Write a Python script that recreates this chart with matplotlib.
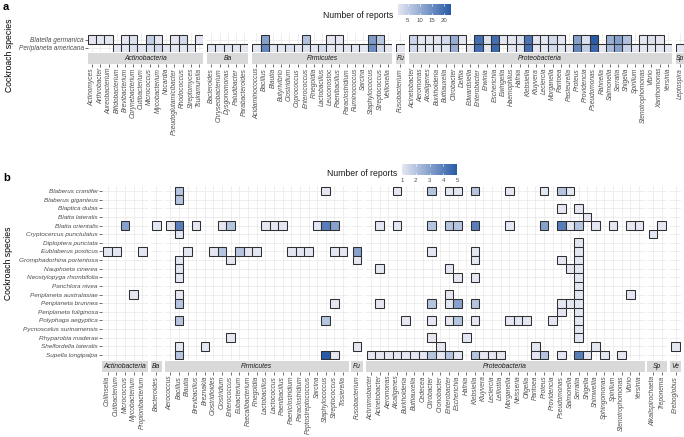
import matplotlib
matplotlib.use("Agg")
import matplotlib.pyplot as plt
from matplotlib.colors import LinearSegmentedColormap, Normalize
import numpy as np

plt.rcParams['font.family'] = ['Liberation Sans', 'DejaVu Sans']

# ---------------- Panel a data ----------------
a_species = ["Blatella germanica", "Periplaneta americana"]

a_actino = ["Actinomyces", "Arthrobacter", "Aureobacterium", "Bifidobacterium", "Brevibacterium",
            "Corynebacterium", "Cutibacterium", "Micrococcus", "Mycobacterium", "Nocardia",
            "Pseudoglutamicibacter", "Rhodococcus", "Streptomyces", "Tsukamurella"]
a_actino_bg = [1, 1, 1, 0, 1, 2, 0, 5, 1, 0, 1, 3, 0, 1]
a_actino_pa = [0, 0, 0, 1, 1, 2, 1, 2, 3, 1, 1, 1, 1, 0]

a_bactero = ["Bacteroides", "Chryseobacterium", "Dysgonomonas", "Paludibacter", "Parabacteroides"]
a_bactero_bg = [0, 0, 0, 0, 0]
a_bactero_pa = [1, 1, 1, 1, 1]

a_firmi = ["Acidaminococcus", "Bacillus", "Blautia", "Butyrivibrio", "Clostridium", "Coprococcus",
           "Enterococcus", "Finegoldia", "Lactobacillus", "Leuconostoc", "Paenibacillus",
           "Paraclostridium", "Ruminococcus", "Sarcina", "Staphylococcus", "Streptococcus", "Veillonella"]
a_firmi_bg = [0, 12, 0, 0, 0, 0, 7, 0, 0, 1, 1, 0, 0, 0, 13, 6, 0]
a_firmi_pa = [1, 16, 1, 1, 2, 1, 2, 1, 3, 1, 1, 1, 1, 1, 15, 3, 1]

a_fuso = ["Fusobacterium"]
a_fuso_bg = [0]
a_fuso_pa = [1]

a_proteo = ["Acinetobacter", "Aeromonas", "Alcaligenes", "Burkholderia", "Buttiauxella", "Citrobacter",
            "Delftia", "Edwardsiella", "Enterobacter", "Erwinia", "Escherichia", "Ewingella",
            "Haemophilus", "Hafnia", "Klebsiella", "Kluyvera", "Leclercia", "Morganella", "Pantoea",
            "Pasteurella", "Proteus", "Providencia", "Pseudomonas", "Rahnella", "Salmonella", "Serratia",
            "Shigella", "Spirillum", "Stenotrophomonas", "Vibrio", "Xanthomonas", "Yersinia"]
a_proteo_bg = [4, 1, 1, 1, 3, 10, 1, 0, 20, 2, 20, 1, 1, 2, 19, 1, 1, 3, 1, 0, 12, 2, 23, 0, 10, 12, 7, 0, 1, 2, 1, 0]
a_proteo_pa = [3, 1, 1, 1, 1, 10, 0, 1, 20, 1, 21, 0, 1, 1, 20, 1, 1, 3, 1, 1, 16, 5, 21, 1, 8, 12, 4, 1, 1, 1, 1, 1]

a_spiro = ["Leptospira"]
a_spiro_bg = [0]
a_spiro_pa = [1]

# ---------------- Panel b data ----------------
b_species = ["Blaberus craniifer", "Blaberus giganteus", "Blaptica dubia", "Blatta lateralis",
             "Blatta orientalis", "Cryptocercus punctulatus", "Diploptera punctata", "Eublaberus posticus",
             "Gromphadorhina portentosa", "Nauphoeta cinerea", "Neostylopyga rhombifolia", "Panchlora nivea",
             "Periplaneta australasiae", "Periplaneta brunnea", "Periplaneta fuliginosa", "Polyphaga aegyptica",
             "Pycnoscelus surinamensis", "Rhyparobia maderae", "Shelfordella lateralis", "Supella longipalpa"]

b_actino = ["Collinsella", "Cutibacterium", "Micrococcus", "Mycobacterium", "Propionibacterium"]
b_actino_tiles = [("Blatta orientalis", "Micrococcus", 3),
                  ("Eublaberus posticus", "Collinsella", 1), ("Eublaberus posticus", "Cutibacterium", 1),
                  ("Eublaberus posticus", "Propionibacterium", 1),
                  ("Periplaneta australasiae", "Mycobacterium", 1)]

b_bactero = ["Bacteroides"]
b_bactero_tiles = [("Blatta orientalis", "Bacteroides", 1)]

b_firmi = ["Aerococcus", "Bacillus", "Blautia", "Brevibacillus", "Breznakia", "Clostridioides", "Clostridium",
           "Enterococcus", "Eubacterium", "Faecalibacterium", "Finegoldia", "Lactobacillus", "Lactococcus",
           "Paenibacillus", "Paeniclostridium", "Paraclostridium", "Peptostreptococcus", "Sarcina",
           "Staphylococcus", "Streptococcus", "Tissierella"]
b_firmi_tiles = [
    ("Blaberus craniifer", "Bacillus", 2), ("Blaberus craniifer", "Staphylococcus", 1),
    ("Blaberus giganteus", "Bacillus", 2),
    ("Blatta orientalis", "Aerococcus", 1), ("Blatta orientalis", "Bacillus", 4),
    ("Blatta orientalis", "Brevibacillus", 1), ("Blatta orientalis", "Clostridium", 1),
    ("Blatta orientalis", "Enterococcus", 2), ("Blatta orientalis", "Lactobacillus", 1),
    ("Blatta orientalis", "Lactococcus", 1), ("Blatta orientalis", "Paenibacillus", 1),
    ("Blatta orientalis", "Sarcina", 1), ("Blatta orientalis", "Staphylococcus", 4),
    ("Blatta orientalis", "Streptococcus", 3),
    ("Cryptocercus punctulatus", "Bacillus", 1),
    ("Eublaberus posticus", "Blautia", 1), ("Eublaberus posticus", "Clostridioides", 1),
    ("Eublaberus posticus", "Clostridium", 2), ("Eublaberus posticus", "Eubacterium", 2),
    ("Eublaberus posticus", "Faecalibacterium", 1), ("Eublaberus posticus", "Finegoldia", 1),
    ("Eublaberus posticus", "Paeniclostridium", 1), ("Eublaberus posticus", "Paraclostridium", 1),
    ("Eublaberus posticus", "Peptostreptococcus", 1), ("Eublaberus posticus", "Streptococcus", 1),
    ("Eublaberus posticus", "Tissierella", 1),
    ("Gromphadorhina portentosa", "Bacillus", 1), ("Gromphadorhina portentosa", "Enterococcus", 1),
    ("Nauphoeta cinerea", "Bacillus", 1), ("Neostylopyga rhombifolia", "Bacillus", 1),
    ("Periplaneta australasiae", "Bacillus", 1),
    ("Periplaneta brunnea", "Bacillus", 2), ("Periplaneta brunnea", "Streptococcus", 1),
    ("Polyphaga aegyptica", "Bacillus", 2), ("Polyphaga aegyptica", "Staphylococcus", 2),
    ("Rhyparobia maderae", "Enterococcus", 1),
    ("Shelfordella lateralis", "Bacillus", 1), ("Shelfordella lateralis", "Breznakia", 1),
    ("Supella longipalpa", "Bacillus", 2), ("Supella longipalpa", "Staphylococcus", 5),
    ("Supella longipalpa", "Streptococcus", 1)]

b_fuso = ["Fusobacterium"]
b_fuso_tiles = [("Eublaberus posticus", "Fusobacterium", 3), ("Gromphadorhina portentosa", "Fusobacterium", 1),
                ("Shelfordella lateralis", "Fusobacterium", 1)]

b_proteo = ["Achromobacter", "Acinetobacter", "Aeromonas", "Alcaligenes", "Burkholderia", "Buttiauxella",
            "Cedecea", "Citrobacter", "Cronobacter", "Enterobacter", "Escherichia", "Hafnia", "Klebsiella",
            "Kluyvera", "Leclercia", "Lelliottia", "Morganella", "Neisseria", "Oligella", "Pantoea", "Proteus",
            "Providencia", "Pseudomonas", "Salmonella", "Serratia", "Shigella", "Shimwellia", "Sphingomonas",
            "Spirillum", "Stenotrophomonas", "Vibrio", "Yersinia"]
b_proteo_tiles = [
    ("Blaberus craniifer", "Alcaligenes", 1), ("Blaberus craniifer", "Citrobacter", 2),
    ("Blaberus craniifer", "Enterobacter", 1), ("Blaberus craniifer", "Escherichia", 1),
    ("Blaberus craniifer", "Klebsiella", 2), ("Blaberus craniifer", "Morganella", 1),
    ("Blaberus craniifer", "Proteus", 1), ("Blaberus craniifer", "Pseudomonas", 2),
    ("Blaberus craniifer", "Salmonella", 1),
    ("Blaptica dubia", "Pseudomonas", 1), ("Blaptica dubia", "Serratia", 1),
    ("Blatta lateralis", "Shigella", 1),
    ("Blatta orientalis", "Acinetobacter", 1), ("Blatta orientalis", "Alcaligenes", 1),
    ("Blatta orientalis", "Citrobacter", 2), ("Blatta orientalis", "Enterobacter", 2),
    ("Blatta orientalis", "Escherichia", 2), ("Blatta orientalis", "Klebsiella", 4),
    ("Blatta orientalis", "Morganella", 1), ("Blatta orientalis", "Proteus", 3),
    ("Blatta orientalis", "Pseudomonas", 4), ("Blatta orientalis", "Salmonella", 1),
    ("Blatta orientalis", "Serratia", 2), ("Blatta orientalis", "Shimwellia", 1),
    ("Blatta orientalis", "Spirillum", 1), ("Blatta orientalis", "Vibrio", 1),
    ("Blatta orientalis", "Yersinia", 1),
    ("Diploptera punctata", "Serratia", 1),
    ("Eublaberus posticus", "Citrobacter", 1), ("Eublaberus posticus", "Klebsiella", 1),
    ("Eublaberus posticus", "Serratia", 1),
    ("Gromphadorhina portentosa", "Klebsiella", 1), ("Gromphadorhina portentosa", "Pseudomonas", 1),
    ("Gromphadorhina portentosa", "Serratia", 1),
    ("Nauphoeta cinerea", "Acinetobacter", 1), ("Nauphoeta cinerea", "Enterobacter", 1),
    ("Nauphoeta cinerea", "Salmonella", 1), ("Nauphoeta cinerea", "Serratia", 1),
    ("Neostylopyga rhombifolia", "Escherichia", 1), ("Neostylopyga rhombifolia", "Klebsiella", 1),
    ("Neostylopyga rhombifolia", "Serratia", 1),
    ("Panchlora nivea", "Serratia", 1),
    ("Periplaneta australasiae", "Enterobacter", 1), ("Periplaneta australasiae", "Serratia", 1),
    ("Periplaneta australasiae", "Vibrio", 1),
    ("Periplaneta brunnea", "Acinetobacter", 1), ("Periplaneta brunnea", "Citrobacter", 2),
    ("Periplaneta brunnea", "Enterobacter", 1), ("Periplaneta brunnea", "Escherichia", 3),
    ("Periplaneta brunnea", "Klebsiella", 2), ("Periplaneta brunnea", "Pseudomonas", 1),
    ("Periplaneta brunnea", "Salmonella", 1), ("Periplaneta brunnea", "Serratia", 1),
    ("Periplaneta fuliginosa", "Pseudomonas", 1), ("Periplaneta fuliginosa", "Serratia", 1),
    ("Polyphaga aegyptica", "Burkholderia", 1), ("Polyphaga aegyptica", "Citrobacter", 1),
    ("Polyphaga aegyptica", "Enterobacter", 1), ("Polyphaga aegyptica", "Escherichia", 2),
    ("Polyphaga aegyptica", "Klebsiella", 1), ("Polyphaga aegyptica", "Morganella", 1),
    ("Polyphaga aegyptica", "Neisseria", 1), ("Polyphaga aegyptica", "Oligella", 1),
    ("Polyphaga aegyptica", "Providencia", 1), ("Polyphaga aegyptica", "Serratia", 1),
    ("Pycnoscelus surinamensis", "Serratia", 1),
    ("Rhyparobia maderae", "Citrobacter", 1), ("Rhyparobia maderae", "Hafnia", 1),
    ("Rhyparobia maderae", "Serratia", 1),
    ("Shelfordella lateralis", "Cronobacter", 1), ("Shelfordella lateralis", "Pantoea", 1),
    ("Shelfordella lateralis", "Shimwellia", 1),
    ("Supella longipalpa", "Achromobacter", 1), ("Supella longipalpa", "Acinetobacter", 1),
    ("Supella longipalpa", "Aeromonas", 1), ("Supella longipalpa", "Alcaligenes", 1),
    ("Supella longipalpa", "Burkholderia", 1), ("Supella longipalpa", "Buttiauxella", 1),
    ("Supella longipalpa", "Cedecea", 1), ("Supella longipalpa", "Citrobacter", 2),
    ("Supella longipalpa", "Cronobacter", 1), ("Supella longipalpa", "Enterobacter", 2),
    ("Supella longipalpa", "Escherichia", 1), ("Supella longipalpa", "Klebsiella", 2),
    ("Supella longipalpa", "Kluyvera", 1), ("Supella longipalpa", "Leclercia", 1),
    ("Supella longipalpa", "Lelliottia", 1), ("Supella longipalpa", "Pantoea", 1),
    ("Supella longipalpa", "Proteus", 2), ("Supella longipalpa", "Pseudomonas", 1),
    ("Supella longipalpa", "Serratia", 4), ("Supella longipalpa", "Shigella", 1),
    ("Supella longipalpa", "Sphingomonas", 1), ("Supella longipalpa", "Stenotrophomonas", 1)]

b_spiro = ["Alkalispirochaeta", "Treponema"]
b_spiro_tiles = [("Blatta orientalis", "Treponema", 1), ("Cryptocercus punctulatus", "Alkalispirochaeta", 1)]

b_verruco = ["Ereboglobus"]
b_verruco_tiles = [("Shelfordella lateralis", "Ereboglobus", 1)]

a_legend_ticks = [5, 10, 15, 20]
b_legend_ticks = [1, 2, 3, 4, 5]

# ---------------- Styling ----------------
W, H = 684, 437
fig = plt.figure(figsize=(W / 100, H / 100), dpi=100)
cmap = LinearSegmentedColormap.from_list("rep", ["#E4E7F2", "#2A5BA8"])
GRID = "#EBEBEB"
EDGE = "#303030"
TXT = "#4D4D4D"
STRIP = "#D9D9D9"


def ax_px(x0, y0, w, h):
    return fig.add_axes([x0 / W, 1 - (y0 + h) / H, w / W, h / H])


def draw_panel(facets, species, x_start, unit, gap, ext, y_top, y_bot, pad_top, pad_bot,
               norm, ylab_fs, xlab_fs, strip_fs):
    n_rows = len(species)
    x = x_start
    for fi, (name, genera, counts) in enumerate(facets):
        n = len(genera)
        w = n * unit + ext
        ax = ax_px(x, y_top, w, y_bot - y_top)
        for r in range(n_rows):
            for c in range(n):
                v = counts[r][c]
                if v > 0:
                    ax.bar(c, 1, bottom=r - 0.5, width=1, color=cmap(norm(v)),
                           edgecolor=EDGE, linewidth=0.75, zorder=3)
        e = ext / 2 / unit
        ax.set_xlim(-0.5 - e, n - 0.5 + e)
        ax.set_ylim(n_rows - 0.5 + pad_bot, -0.5 - pad_top)
        ax.set_xticks(range(n))
        ax.set_yticks(range(n_rows))
        ax.set_axisbelow(True)
        ax.grid(True, color=GRID, lw=0.6, zorder=0)
        for s in ax.spines.values():
            s.set_visible(False)
        ax.tick_params(axis='x', length=0, labelbottom=False)
        if fi == 0:
            ax.set_yticklabels(species, fontstyle='italic', fontsize=ylab_fs, color=TXT)
            ax.tick_params(axis='y', length=2, width=0.5, color='#333333', pad=1)
        else:
            ax.tick_params(axis='y', length=0, labelleft=False)
        # strip with axis labels below
        sax = ax_px(x, y_bot + 1, w, 10.5)
        sax.set_facecolor(STRIP)
        sax.set_xlim(-0.5 - e, n - 0.5 + e)
        sax.set_ylim(0, 1)
        sax.set_yticks([])
        for s in sax.spines.values():
            s.set_visible(False)
        sax.set_xticks(range(n))
        sax.set_xticklabels(genera, rotation=90, fontstyle='italic', fontsize=xlab_fs, color=TXT)
        sax.tick_params(axis='x', length=2, width=0.5, color='#333333', pad=1)
        sax.text(0.5, 0.5, name, transform=sax.transAxes, ha='center', va='center',
                 fontstyle='italic', fontsize=strip_fs, color='#1A1A1A', clip_on=True)
        x += w + gap


def matrix_from_rows(rows):
    return [list(r) for r in rows]


def matrix_from_tiles(species, genera, tiles):
    m = [[0] * len(genera) for _ in species]
    for sp, g, v in tiles:
        m[species.index(sp)][genera.index(g)] = v
    return m


a_facets = [
    ("Actinobacteria", a_actino, matrix_from_rows([a_actino_bg, a_actino_pa])),
    ("Ba", a_bactero, matrix_from_rows([a_bactero_bg, a_bactero_pa])),
    ("Firmicutes", a_firmi, matrix_from_rows([a_firmi_bg, a_firmi_pa])),
    ("Fu", a_fuso, matrix_from_rows([a_fuso_bg, a_fuso_pa])),
    ("Proteobacteria", a_proteo, matrix_from_rows([a_proteo_bg, a_proteo_pa])),
    ("Sp", a_spiro, matrix_from_rows([a_spiro_bg, a_spiro_pa])),
]
b_facets = [
    ("Actinobacteria", b_actino, matrix_from_tiles(b_species, b_actino, b_actino_tiles)),
    ("Ba", b_bactero, matrix_from_tiles(b_species, b_bactero, b_bactero_tiles)),
    ("Firmicutes", b_firmi, matrix_from_tiles(b_species, b_firmi, b_firmi_tiles)),
    ("Fu", b_fuso, matrix_from_tiles(b_species, b_fuso, b_fuso_tiles)),
    ("Proteobacteria", b_proteo, matrix_from_tiles(b_species, b_proteo, b_proteo_tiles)),
    ("Sp", b_spiro, matrix_from_tiles(b_species, b_spiro, b_spiro_tiles)),
    ("Ve", b_verruco, matrix_from_tiles(b_species, b_verruco, b_verruco_tiles)),
]

a_max = max(max(v) for _, _, m in a_facets for v in m)
b_max = max(max(v) for _, _, m in b_facets for v in m)
norm_a = Normalize(1, a_max)
norm_b = Normalize(1, b_max)

draw_panel(a_facets, a_species, 88, 8.23, 4.0, 0.0, 33, 52.3, 0.3, 0.05, norm_a, 4.7, 4.8, 4.9)
draw_panel(b_facets, b_species, 102, 8.64, 2.8, 2.6, 186, 360, 0.08, 0.08, norm_b, 4.6, 4.8, 4.9)


def draw_legend(x0, y0, w, h, vmin, vmax, ticks, title, title_y):
    lax = ax_px(x0, y0, w, h)
    grad = np.linspace(vmin, vmax, 256)[None, :]
    lax.imshow(grad, cmap=cmap, norm=Normalize(vmin, vmax), aspect='auto',
               extent=[vmin, vmax, 0, 1])
    lax.set_xlim(vmin, vmax)
    lax.set_ylim(0, 1)
    lax.set_yticks([])
    lax.set_xticks(ticks)
    lax.set_xticklabels([str(t) for t in ticks], fontsize=4.3, color=TXT)
    lax.tick_params(axis='x', length=0, pad=2)
    lax.vlines(ticks, 0, 0.2, color='white', lw=0.5)
    lax.vlines(ticks, 0.8, 1, color='white', lw=0.5)
    for s in lax.spines.values():
        s.set_visible(False)
    fig.text((x0 - 5) / W, 1 - title_y / H, title, ha='right', va='center', fontsize=6.2, color='#1A1A1A')


draw_legend(398, 4, 53, 11, 1, a_max, a_legend_ticks, "Number of reports", 15)
draw_legend(402, 164, 55, 11, 1, b_max, b_legend_ticks, "Number of reports", 174)

fig.text(3 / W, 1 - 2 / H, "a", ha='left', va='top', fontsize=8, fontweight='bold')
fig.text(3 / W, 1 - 173 / H, "b", ha='left', va='top', fontsize=8, fontweight='bold')
fig.text(10 / W, 1 - 55 / H, "Cockroach species", rotation=90, ha='center', va='center', fontsize=6.2)
fig.text(9 / W, 1 - 263 / H, "Cockroach species", rotation=90, ha='center', va='center', fontsize=6.2)

fig.savefig("out.png", dpi=100, facecolor='white')
